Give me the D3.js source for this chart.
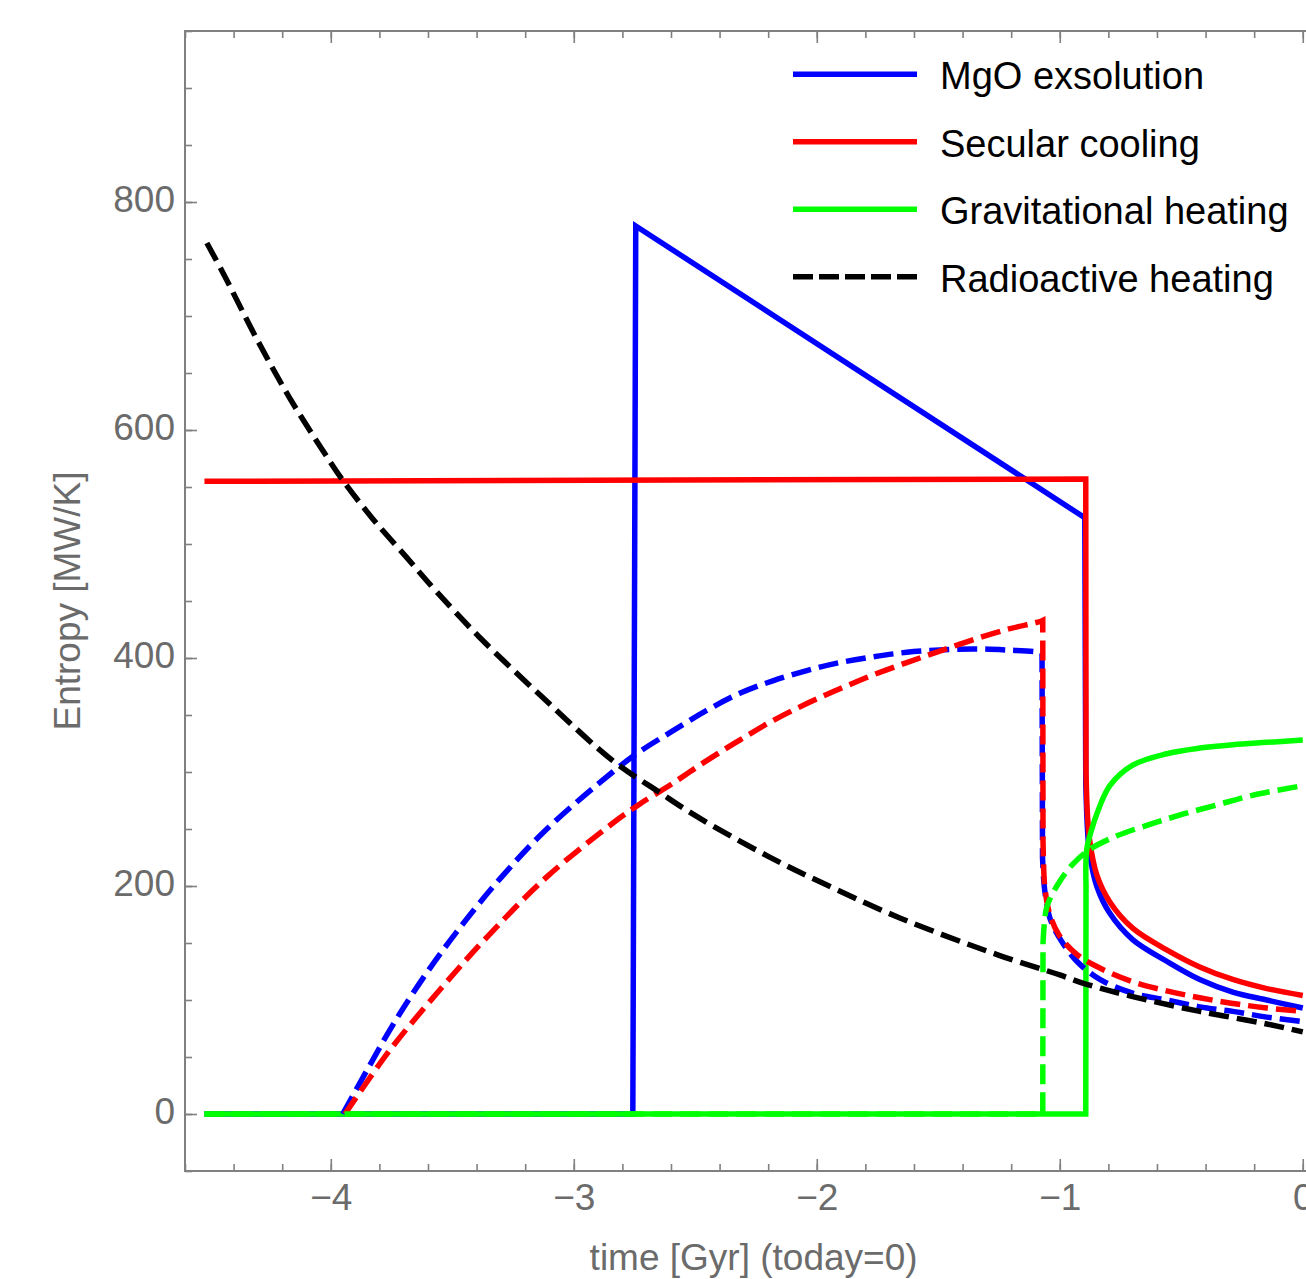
<!DOCTYPE html>
<html>
<head>
<meta charset="utf-8">
<script src="https://cdn.jsdelivr.net/npm/d3@7"></script>
<style>
  body { margin: 0; background: #fff; }
  text { font-family: "Liberation Sans", Arial, Helvetica, sans-serif; }
</style>
</head>
<body>
<script>
// tick values
const xTicks = [-4, -3, -2, -1, 0];
const yTicks = [0, 200, 400, 600, 800];
const legendNames = ["MgO exsolution", "Secular cooling", "Gravitational heating", "Radioactive heating"];

// each curve is a list of smooth pieces [time, entropy]; pieces are joined by straight jumps
const mgoSolid = [
  [[-4.52, 0], [-2.757, 0]],
  [[-2.745, 779], [-0.897, 523]],
  [[-0.893, 290], [-0.886, 250], [-0.877, 228], [-0.848, 200], [-0.794, 176], [-0.70, 153],
   [-0.56, 134], [-0.424, 118], [-0.288, 107], [-0.148, 100], [0, 93]]
];
const mgoDashed = [
  [[-3.951, 0], [-3.852, 38], [-3.745, 78], [-3.621, 119], [-3.481, 160], [-3.305, 206],
   [-3.111, 250], [-2.840, 300], [-2.728, 318], [-2.593, 336], [-2.453, 354], [-2.317, 369],
   [-2.181, 380], [-2.041, 389], [-1.905, 396], [-1.770, 401], [-1.630, 405], [-1.494, 407],
   [-1.358, 408], [-1.218, 407], [-1.082, 405], [-1.073, 404]],
  [[-1.071, 225], [-1.066, 205], [-1.058, 190], [-1.041, 172], [-1.0, 154], [-0.930, 134],
   [-0.835, 118], [-0.70, 106], [-0.56, 100], [-0.424, 94], [-0.288, 90], [-0.148, 85], [0, 81]]
];
const secularSolid = [
  [[-4.52, 555], [-0.893, 557]],
  [[-0.892, 300], [-0.886, 262], [-0.877, 240], [-0.848, 210], [-0.794, 186], [-0.70, 163],
   [-0.56, 144], [-0.424, 129], [-0.288, 118], [-0.148, 110], [0, 104]]
];
const secularDashed = [
  [[-3.942, 0], [-3.757, 56], [-3.551, 109], [-3.358, 155], [-3.111, 208], [-2.840, 255],
   [-2.728, 272], [-2.593, 290], [-2.453, 310], [-2.317, 328], [-2.181, 345], [-2.041, 360],
   [-1.905, 373], [-1.770, 385], [-1.630, 396], [-1.494, 406], [-1.358, 416], [-1.218, 425],
   [-1.082, 432], [-1.070, 433]],
  [[-1.069, 240], [-1.066, 215], [-1.062, 200], [-1.041, 175], [-1.0, 156], [-0.930, 140],
   [-0.835, 128], [-0.70, 116], [-0.56, 108], [-0.424, 102], [-0.288, 97], [-0.148, 93], [0, 90]]
];
const gravSolid = [
  [[-4.52, 0], [-0.893, 0]],
  [[-0.892, 200], [-0.889, 232], [-0.868, 250], [-0.848, 263], [-0.794, 288], [-0.70, 306],
   [-0.56, 316], [-0.424, 321], [-0.288, 324], [-0.148, 326], [0, 328]]
];
const gravDashed = [
  [[-4.52, 0], [-1.070, 0]],
  [[-1.069, 150], [-1.063, 168], [-1.053, 182], [-1.012, 200], [-0.947, 219], [-0.877, 232],
   [-0.765, 244], [-0.630, 254], [-0.494, 263], [-0.354, 271], [-0.218, 279], [0, 288]]
];
const radioDashed = [
  [[-4.51, 764], [-4.444, 738], [-4.305, 680], [-4.169, 628], [-4.033, 582], [-3.951, 556],
   [-3.827, 522], [-3.687, 488], [-3.564, 458], [-3.387, 418], [-3.111, 362], [-2.84, 310],
   [-2.646, 282], [-2.494, 261], [-2.2, 226], [-2.0, 205], [-1.658, 172], [-1.247, 139],
   [-1.0, 122], [-0.893, 114], [-0.70, 103], [-0.424, 90], [-0.148, 79], [0, 72]]
];

const W = 1306, H = 1279;
const mLeft = 185, mTop = 31, mRight = 1322.2, mBottom = 1171;
const gray = "#6b6b6b";
const dash = "20,8";

const svg = d3.select("body").append("svg")
  .attr("width", W)
  .attr("height", H);

svg.append("rect").attr("width", W).attr("height", H).attr("fill", "#fff");

const x = d3.scaleLinear().domain([-4.6, 0.08]).range([mLeft, mRight]);
const y = d3.scaleLinear().domain([-50, 950]).range([mBottom, mTop]);

svg.append("clipPath").attr("id", "clip")
  .append("rect")
  .attr("x", mLeft).attr("y", mTop)
  .attr("width", mRight - mLeft).attr("height", mBottom - mTop);

const gen = d3.line()
  .x(d => x(d[0]))
  .y(d => y(d[1]))
  .curve(d3.curveCatmullRom.alpha(0.5));

function piecePath(pieces) {
  return pieces.map((p, i) => {
    const s = gen(p);
    return i ? s.replace(/^M/, "L") : s;
  }).join("");
}

const plot = svg.append("g").attr("clip-path", "url(#clip)");

const curves = [
  {data: mgoSolid, color: "#0000ff", dashed: false},
  {data: secularSolid, color: "#ff0000", dashed: false},
  {data: gravSolid, color: "#00ff00", dashed: false},
  {data: mgoDashed, color: "#0000ff", dashed: true},
  {data: secularDashed, color: "#ff0000", dashed: true},
  {data: gravDashed, color: "#00ff00", dashed: true},
  {data: radioDashed, color: "#000000", dashed: true}
];

curves.forEach(c => {
  plot.append("path")
    .attr("d", piecePath(c.data))
    .attr("fill", "none")
    .attr("stroke", c.color)
    .attr("stroke-width", 5.5)
    .attr("stroke-linejoin", "miter")
    .attr("stroke-dasharray", c.dashed ? dash : null);
});

// frame
svg.append("rect")
  .attr("x", mLeft).attr("y", mTop)
  .attr("width", mRight - mLeft).attr("height", mBottom - mTop)
  .attr("fill", "none")
  .attr("stroke", "#808080")
  .attr("stroke-width", 2);

const xMinor = d3.range(-46, 1).map(d => d / 10).filter(d => Math.round(d * 10) % 2 === 0);
const yMinor = d3.range(-50, 951, 50);

function styleAxis(g) {
  g.select(".domain").remove();
  g.selectAll(".tick line").attr("stroke", "#808080").attr("stroke-width", 1.6);
  g.selectAll(".tick text")
    .attr("fill", gray)
    .attr("font-size", 37)
    .attr("font-family", "'Liberation Sans', Arial, Helvetica, sans-serif");
}

svg.append("g").attr("transform", `translate(0,${mBottom})`)
  .call(d3.axisBottom(x).tickValues(xMinor).tickSize(-7).tickFormat(""))
  .call(styleAxis);
svg.append("g").attr("transform", `translate(0,${mBottom})`)
  .call(d3.axisBottom(x).tickValues(xTicks).tickSize(-12).tickPadding(13)
    .tickFormat(d => d < 0 ? "\u2212" + Math.abs(d) : String(d)))
  .call(styleAxis);

svg.append("g").attr("transform", `translate(0,${mTop})`)
  .call(d3.axisTop(x).tickValues(xMinor).tickSize(-7).tickFormat(""))
  .call(styleAxis);
svg.append("g").attr("transform", `translate(0,${mTop})`)
  .call(d3.axisTop(x).tickValues(xTicks).tickSize(-12).tickFormat(""))
  .call(styleAxis);

svg.append("g").attr("transform", `translate(${mLeft},0)`)
  .call(d3.axisLeft(y).tickValues(yMinor).tickSize(-7).tickFormat(""))
  .call(styleAxis);
svg.append("g").attr("transform", `translate(${mLeft},0)`)
  .call(d3.axisLeft(y).tickValues(yTicks).tickSize(-12).tickPadding(10))
  .call(styleAxis)
  .call(g => g.selectAll(".tick text").attr("dy", "0.26em"));

// axis titles
svg.append("text")
  .attr("x", (mLeft + mRight) / 2)
  .attr("y", 1270)
  .attr("text-anchor", "middle")
  .attr("font-size", 37)
  .attr("fill", gray)
  .text("time [Gyr] (today=0)");

svg.append("text")
  .attr("transform", `translate(80,${(mTop + mBottom) / 2}) rotate(-90)`)
  .attr("text-anchor", "middle")
  .attr("font-size", 37)
  .attr("fill", gray)
  .text("Entropy [MW/K]");

// legend
const legendColors = ["#0000ff", "#ff0000", "#00ff00", "#000000"];
const legend = svg.append("g");
legendNames.forEach((name, i) => {
  const ly = 74.3 + i * 67.5;
  legend.append("line")
    .attr("x1", 793).attr("x2", 917)
    .attr("y1", ly).attr("y2", ly)
    .attr("stroke", legendColors[i])
    .attr("stroke-width", 5.5)
    .attr("stroke-dasharray", i === 3 ? "20,6" : null);
  legend.append("text")
    .attr("x", 940)
    .attr("y", ly + 15)
    .attr("font-size", 38)
    .attr("fill", "#000")
    .text(name);
});
</script>
</body>
</html>
